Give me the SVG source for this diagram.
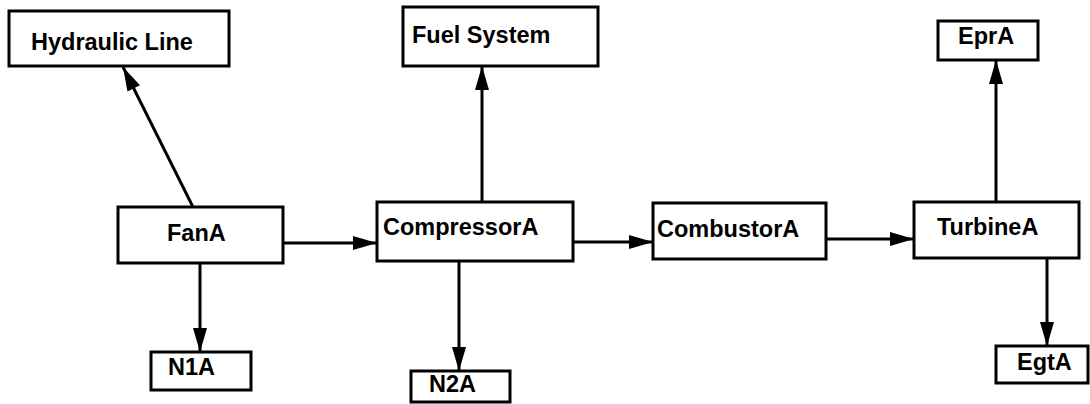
<svg xmlns="http://www.w3.org/2000/svg" width="1090" height="404" viewBox="0 0 1090 404">
<style>
.box{fill:#fff;stroke:#000;stroke-width:3}
.lbl{font-family:"Liberation Sans",Arial,sans-serif;font-weight:bold;font-size:23.5px;fill:#000}
.edge{stroke:#000;stroke-width:3;fill:none;marker-end:url(#ah)}
</style>
<defs>
<marker id="ah" markerUnits="userSpaceOnUse" viewBox="0 0 24 14" markerWidth="24" markerHeight="14" refX="24" refY="7" orient="auto">
<path d="M0,0 L24,7 L0,14 z" fill="#000"/>
</marker>
</defs>
<rect width="1090" height="404" fill="#fff"/>
<g id="connectors">
<line class="edge" x1="193" y1="207" x2="123" y2="67"/>
<line class="edge" x1="283" y1="243" x2="377" y2="243"/>
<line class="edge" x1="200" y1="263" x2="200" y2="352"/>
<line class="edge" x1="482" y1="202" x2="482" y2="66"/>
<line class="edge" x1="459" y1="261" x2="459" y2="371"/>
<line class="edge" x1="573" y1="242" x2="653" y2="242"/>
<line class="edge" x1="826" y1="239" x2="914" y2="239"/>
<line class="edge" x1="996" y1="202" x2="996" y2="60"/>
<line class="edge" x1="1047" y1="258" x2="1047" y2="346"/>
</g>
<g id="hydraulic-line"><rect class="box" x="9" y="11" width="220" height="55"/><text class="lbl" x="31" y="50">Hydraulic Line</text></g>
<g id="fuel-system"><rect class="box" x="403" y="7" width="195" height="59"/><text class="lbl" x="412" y="43">Fuel System</text></g>
<g id="epra"><rect class="box" x="938" y="21" width="100" height="39"/><text class="lbl" x="958" y="44">EprA</text></g>
<g id="fana"><rect class="box" x="118" y="207" width="165" height="56"/><text class="lbl" x="167" y="241">FanA</text></g>
<g id="compressora"><rect class="box" x="377" y="202" width="196" height="59"/><text class="lbl" x="383" y="235">CompressorA</text></g>
<g id="combustora"><rect class="box" x="653" y="203" width="173" height="56"/><text class="lbl" x="657" y="237">CombustorA</text></g>
<g id="turbinea"><rect class="box" x="914" y="202" width="165" height="56"/><text class="lbl" x="937" y="235">TurbineA</text></g>
<g id="n1a"><rect class="box" x="151" y="352" width="100" height="38"/><text class="lbl" x="168" y="375">N1A</text></g>
<g id="n2a"><rect class="box" x="411" y="371" width="99" height="31"/><text class="lbl" x="429" y="392">N2A</text></g>
<g id="egta"><rect class="box" x="996" y="346" width="92" height="37"/><text class="lbl" x="1017" y="370">EgtA</text></g>
</svg>
